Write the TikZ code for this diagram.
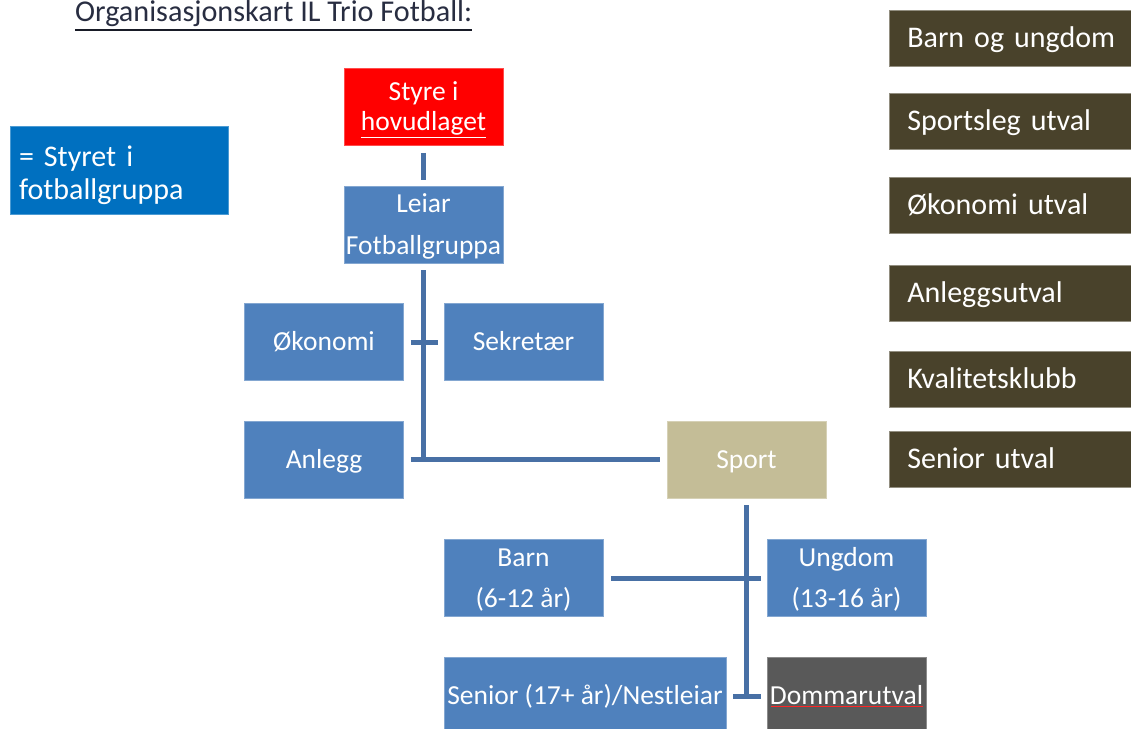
\documentclass[tikz,border=0pt]{standalone}
\usepackage{fontspec}
\setmainfont{Carlito}
\definecolor{boxblue}{RGB}{79,129,189}
\definecolor{lineblue}{RGB}{72,112,165}
\definecolor{legblue}{RGB}{0,112,192}
\definecolor{tan}{RGB}{196,189,151}
\definecolor{brownbox}{RGB}{73,66,43}
\definecolor{darkgreybox}{RGB}{89,89,89}
\definecolor{titlecol}{RGB}{40,45,65}
\newcommand\hstr{\rule{0pt}{0.89em}}
\newcommand\dstr{\rule[-0.25em]{0pt}{0pt}}
\tikzset{
  orgbox/.style={rectangle, fill=boxblue, draw=boxblue!70!white, line width=0.6pt,
    minimum width=159pt, minimum height=77pt, inner sep=0pt, text=white,
    font=\fontsize{27.5}{42}\selectfont, align=center},
  onebox/.style={orgbox, text height=24.5pt, text depth=6.9pt},
  sidebox/.style={rectangle, fill=brownbox, draw=brownbox!60!white, line width=0.6pt,
    minimum height=56pt, minimum width=260pt, inner ysep=0pt, inner xsep=18pt, anchor=west, text=white,
    font=\fontsize{30}{33}\selectfont, text width=224pt, align=left,
    text height=26.7pt, text depth=7.5pt},
  conn/.style={lineblue, line width=5pt}
}
\begin{document}
\begin{tikzpicture}[x=1pt,y=-1pt]
\useasboundingbox (0,0) rectangle (1131,728);
\fill[white] (0,0) rectangle (1131,728);

% title
\node[anchor=base west, inner sep=0pt, text=titlecol, font=\fontsize{30.2}{33}\selectfont] (title) at (75,21) {Organisasjonskart IL Trio Fotball:};
\draw[titlecol!60!black, line width=2pt] ([yshift=-9pt]title.base west) -- ([yshift=-9pt]title.base east);

% legend
\node[rectangle, fill=legblue, draw=legblue!70!white, line width=0.6pt, minimum width=218pt, minimum height=88pt,
  inner sep=0pt, text width=200pt, align=left, text=white, font=\fontsize{30}{33}\selectfont] (legend) at (119,170)
  {\rule{0pt}{33.7pt}= Styret i\\fotballgruppa\dstr};

% main tree
\node[orgbox, fill=red, draw=red!70!white, font=\fontsize{27.5}{30}\selectfont] (styre) at (423.5,107) {\hstr Styre i\\\underline{hovudlaget}\dstr};
\node[orgbox] (leiar) at (423.5,224.5) {\hstr Leiar\\Fotballgruppa\dstr};
\node[onebox] (okonomi) at (324,342) {Økonomi};
\node[onebox] (sekretaer) at (523.5,342) {Sekretær};
\node[onebox] (anlegg) at (324,459.5) {Anlegg};
\node[onebox, fill=tan, draw=tan!70!white] (sport) at (746.5,459.5) {Sport};
\node[orgbox, font=\fontsize{27.5}{41}\selectfont] (barn) at (523.5,578) {\hstr Barn\\(6-12 år)\dstr};
\node[orgbox, font=\fontsize{27.5}{41}\selectfont] (ungdom) at (846.5,578) {\hstr Ungdom\\(13-16 år)\dstr};
\node[onebox, minimum width=282pt] (senior) at (585,695.5) {Senior (17+ år)/Nestleiar};
\node[onebox, fill=darkgreybox, draw=darkgreybox!70!white] (dommar) at (846.5,695.5) {Dommarutval};
\draw[red!85!white, line width=1pt] ([xshift=-76pt,yshift=-11pt]dommar.center) -- ([xshift=76pt,yshift=-11pt]dommar.center);

% connectors
\coordinate (j1) at (leiar.south |- anlegg.east);
\coordinate (j2) at ([yshift=-0.5pt]sport.south |- senior.east);
\draw[conn, shorten <=7pt, shorten >=6pt] (styre.south) -- (leiar.north);
\draw[conn, shorten <=7pt] (leiar.south) -- ([yshift=-2.5pt]j1);
\draw[conn, shorten <=7pt, shorten >=6pt] (okonomi.east) -- (sekretaer.west);
\draw[conn, shorten <=7pt, shorten >=7pt] (anlegg.east) -- (sport.west);
\draw[conn, shorten <=7pt] (sport.south) -- ([yshift=-2.5pt]j2);
\draw[conn, shorten <=8pt, shorten >=6pt] (barn.east) -- (ungdom.west);
\draw[conn, shorten <=7pt, shorten >=6pt] ([yshift=-0.5pt]senior.east) -- ([yshift=-0.5pt]dommar.west);

% side column
\node[sidebox] (s1) at (889,38) {Barn og ungdom};
\node[sidebox] (s2) at (889,121) {Sportsleg utval};
\node[sidebox] (s3) at (889,205) {Økonomi utval};
\node[sidebox] (s4) at (889,293) {Anleggsutval};
\node[sidebox] (s5) at (889,379) {Kvalitetsklubb};
\node[sidebox] (s6) at (889,459) {Senior utval};
\end{tikzpicture}
\end{document}
